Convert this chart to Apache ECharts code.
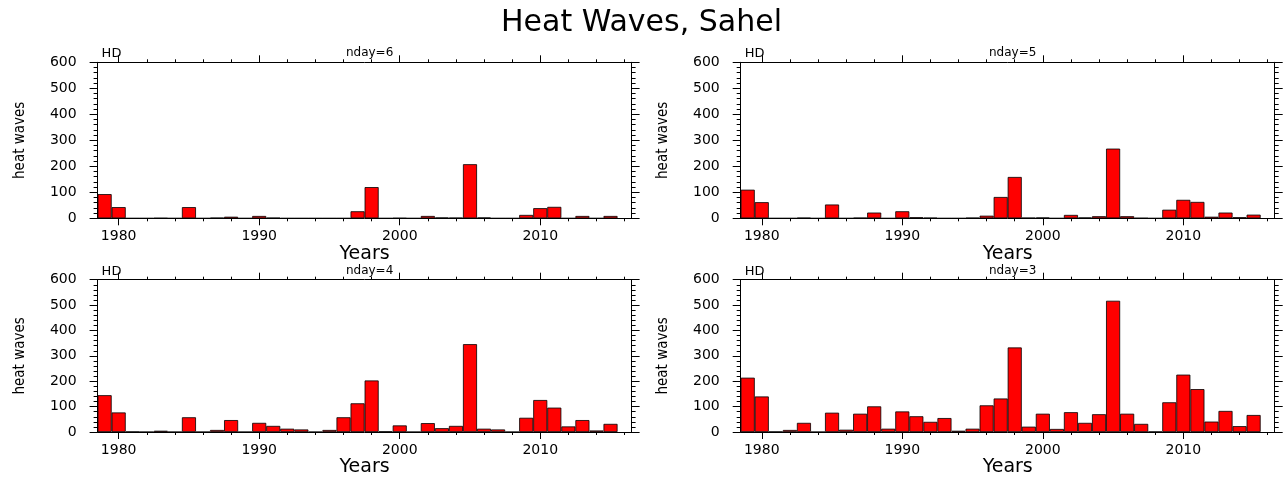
<!DOCTYPE html>
<html>
<head>
<meta charset="utf-8">
<title>Heat Waves, Sahel</title>
<script src="https://cdn.jsdelivr.net/npm/echarts@6/dist/echarts.min.js"></script>
<style>
  html, body { margin: 0; padding: 0; background: #fff; }
  #main { width: 1283px; height: 478px; }
</style>
</head>
<body>
<div id="main"></div>
<script>
// years on the x axis
const years = [1979, 1980, 1981, 1982, 1983, 1984, 1985, 1986, 1987, 1988,
  1989, 1990, 1991, 1992, 1993, 1994, 1995, 1996, 1997, 1998,
  1999, 2000, 2001, 2002, 2003, 2004, 2005, 2006, 2007, 2008,
  2009, 2010, 2011, 2012, 2013, 2014, 2015]

// number of heat waves per year, one array per minimum duration
const nday6 = [93, 43, 0, 0, 1, 0, 43, 0, 2, 6,
  0, 9, 2, 0, 0, 0, 0, 0, 27, 120,
  0, 1, 0, 9, 3, 2, 208, 3, 0, 0,
  13, 39, 44, 0, 9, 0, 9]
const nday5 = [110, 62, 0, 0, 2, 0, 53, 0, 2, 22,
  0, 27, 4, 2, 0, 0, 2, 10, 82, 159,
  2, 3, 0, 13, 3, 8, 268, 8, 1, 0,
  33, 71, 63, 6, 22, 4, 14]
const nday4 = [145, 77, 1, 0, 5, 0, 58, 0, 8, 47,
  0, 36, 24, 13, 10, 0, 8, 58, 113, 203,
  2, 26, 0, 35, 15, 24, 346, 13, 10, 0,
  56, 126, 96, 22, 47, 6, 32]
const nday3 = [214, 140, 1, 8, 36, 0, 76, 9, 72, 101,
  13, 81, 62, 40, 55, 5, 13, 105, 132, 333,
  21, 72, 12, 78, 36, 70, 517, 72, 32, 1,
  117, 226, 169, 41, 83, 23, 67]

// tick labels
const yearTicks = [1980, 1990, 2000, 2010]
const minorYearTicks = [1982, 1984, 1986, 1988, 1992, 1994, 1996, 1998,
  2002, 2004, 2006, 2008, 2012, 2014, 2016]
const panelNames = ['nday=6', 'nday=5', 'nday=4', 'nday=3']
const panelData = [nday6, nday5, nday4, nday3]

const xMin = 1978.5
const xMax = 2016.5
const font = 'DejaVu Sans'

// plot boxes, 2 x 2
const boxes = [
  { left: 97.6, top: 62.3 },
  { left: 740.7, top: 62.3 },
  { left: 97.6, top: 279.7 },
  { left: 740.7, top: 279.7 }
]
const boxW = 534
const boxH = 156

const grid = []
const xAxis = []
const yAxis = []
const series = []
const title = [{
  text: 'Heat Waves, Sahel',
  left: 'center',
  top: 3,
  textStyle: { fontFamily: font, fontSize: 30, fontWeight: 'normal', color: '#000' }
}]

boxes.forEach((b, i) => {
  grid.push({ left: b.left, top: b.top, width: boxW, height: boxH, containLabel: false })

  title.push({
    text: 'HD', left: b.left - 1, top: b.top - 20,
    textStyle: { fontFamily: font, fontSize: 13, fontWeight: 'normal', color: '#000' }
  })
  title.push({
    text: panelNames[i], left: b.left + boxW / 2, top: b.top - 20, textAlign: 'center',
    textStyle: { fontFamily: font, fontSize: 12, fontWeight: 'normal', color: '#000' }
  })

  let base = { type: 'value', gridIndex: i, min: xMin, max: xMax, splitLine: { show: false } }
  // bottom, major ticks + labels
  xAxis.push(Object.assign({}, base, {
    position: 'bottom',
    name: 'Years',
    nameLocation: 'middle',
    nameGap: 26,
    nameTextStyle: { fontFamily: font, fontSize: 19, color: '#000' },
    axisLine: { show: true, onZero: false, lineStyle: { color: '#000', width: 1 } },
    axisTick: { show: true, length: 7, customValues: yearTicks, lineStyle: { color: '#000' } },
    axisLabel: {
      show: true, customValues: yearTicks, margin: 11,
      fontFamily: font, fontSize: 14, color: '#000',
      formatter: v => String(v)
    }
  }))
  // bottom, minor ticks
  xAxis.push(Object.assign({}, base, {
    position: 'bottom',
    axisLine: { show: false, onZero: false },
    axisTick: { show: true, length: 3, customValues: minorYearTicks, lineStyle: { color: '#000' } },
    axisLabel: { show: false }
  }))
  // top, major
  xAxis.push(Object.assign({}, base, {
    position: 'top',
    axisLine: { show: true, onZero: false, lineStyle: { color: '#000', width: 1 } },
    axisTick: { show: true, length: 7, customValues: yearTicks, lineStyle: { color: '#000' } },
    axisLabel: { show: false }
  }))
  // top, minor
  xAxis.push(Object.assign({}, base, {
    position: 'top',
    axisLine: { show: false, onZero: false },
    axisTick: { show: true, length: 3, customValues: minorYearTicks, lineStyle: { color: '#000' } },
    axisLabel: { show: false }
  }))

  let ybase = {
    type: 'value', gridIndex: i, min: 0, max: 600, interval: 100,
    splitLine: { show: false },
    axisLine: { show: true, onZero: false, lineStyle: { color: '#000', width: 1 } },
    axisTick: { show: true, length: 8, lineStyle: { color: '#000' } },
    minorTick: { show: true, splitNumber: 5, length: 4, lineStyle: { color: '#000' } }
  }
  yAxis.push(Object.assign({}, ybase, {
    position: 'left',
    name: 'heat waves',
    nameLocation: 'middle',
    nameGap: 70,
    nameTextStyle: { fontFamily: '"DejaVu Sans Condensed", "Liberation Sans Narrow", sans-serif', fontSize: 15, color: '#000' },
    axisLabel: { show: true, margin: 21, fontFamily: font, fontSize: 14, color: '#000' }
  }))
  yAxis.push(Object.assign({}, ybase, {
    position: 'right',
    axisLabel: { show: false }
  }))

  series.push({
    type: 'bar',
    name: panelNames[i],
    xAxisIndex: i * 4,
    yAxisIndex: i * 2,
    barWidth: boxW / (xMax - xMin),
    itemStyle: { color: '#ff0000', borderColor: '#000', borderWidth: 0.8 },
    data: years.map((y, k) => [y, panelData[i][k]])
  })
})

var myChart = echarts.init(document.getElementById('main'))
var option = {
  backgroundColor: '#fff',
  animation: false,
  title: title,
  grid: grid,
  xAxis: xAxis,
  yAxis: yAxis,
  series: series
}
myChart.setOption(option)
</script>
</body>
</html>
